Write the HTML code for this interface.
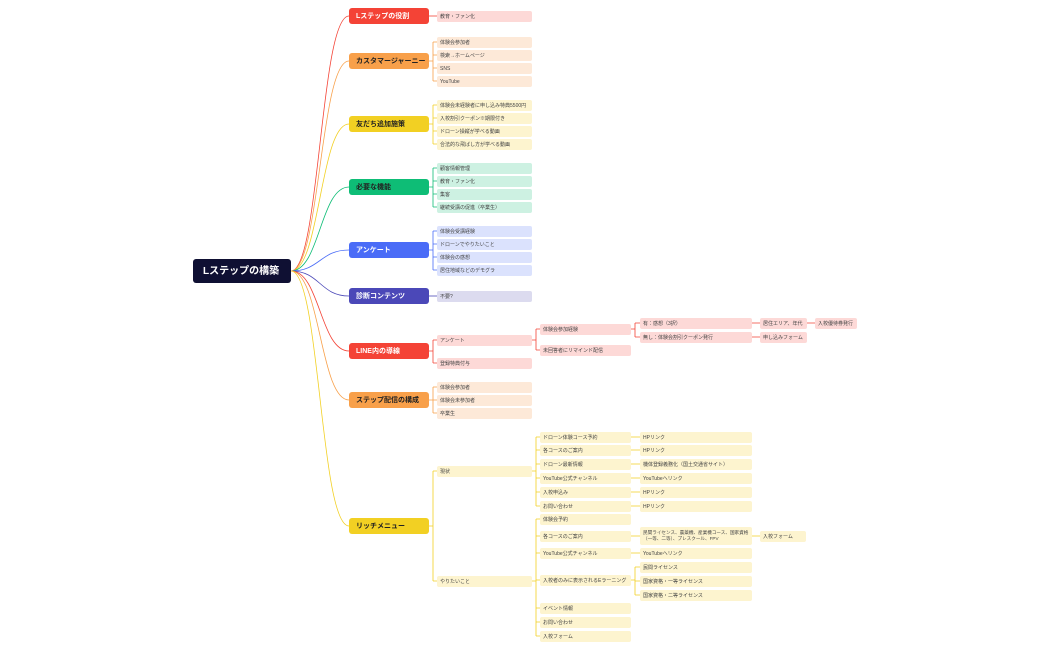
<!DOCTYPE html>
<html><head><meta charset="utf-8"><style>
body{margin:0;width:1050px;height:650px;background:#fff;position:relative;overflow:hidden;font-family:"Liberation Sans","Noto Sans CJK JP",sans-serif}
.n{position:absolute;font-size:5px;border-radius:2px;padding-left:3px;height:11px;line-height:12px;white-space:nowrap;color:#444;box-sizing:border-box;overflow:hidden}
.m{position:absolute;left:349px;width:80px;height:16px;line-height:17px;font-size:7px;font-weight:bold;border-radius:3px;padding-left:7px;box-sizing:border-box;white-space:nowrap;color:#222}
.r{background:#fdd9d7}.o{background:#fde9d8}.y{background:#fdf4cf}.g{background:#cdf1e2}.b{background:#dbe2fd}.i{background:#dcdbef}
.l2{left:437px;width:95px}.l3{left:540px;width:91px}.l4{left:640px;width:112px}
svg{position:absolute;left:0;top:0}
</style></head><body>
<svg width="1050" height="650" fill="none" stroke-width="0.8">
<g>
<path d="M291 271C320 271 320 16 349 16" stroke="#f44336"/>
<path d="M291 271C320 271 320 61 349 61" stroke="#f8a04a"/>
<path d="M291 271C320 271 320 124 349 124" stroke="#f2d023"/>
<path d="M291 271C320 271 320 187 349 187" stroke="#0ebd76"/>
<path d="M291 271C320 271 320 250 349 250" stroke="#4a6cf7"/>
<path d="M291 271C320 271 320 296 349 296" stroke="#4b48b8"/>
<path d="M291 271C320 271 320 351 349 351" stroke="#f44336"/>
<path d="M291 271C320 271 320 400 349 400" stroke="#f8a04a"/>
<path d="M291 271C320 271 320 526 349 526" stroke="#f2d023"/>
</g>
<g stroke="#f44336"><path d="M429 16H437"/><path d="M429 351H433M433 340V363M433 340H437M433 363H437"/><path d="M532 340H536M536 329V350M536 329H540M536 350H540"/><path d="M631 329H635M635 323V337M635 323H640M635 337H640"/><path d="M752 323H760M752 337H760M807 323H815"/></g>
<g stroke="#f8a04a"><path d="M429 61H433M433 42V81M433 42H437M433 55H437M433 68H437M433 81H437"/><path d="M429 400H433M433 387V413M433 387H437M433 400H437M433 413H437"/></g>
<g stroke="#f2d023"><path d="M429 124H433M433 105V144M433 105H437M433 118H437M433 131H437M433 144H437"/>
<path d="M429 526H433M433 471V581M433 471H437M433 581H437"/>
<path d="M532 471H536M536 437V506M536 437H540M536 450H540M536 464H540M536 478H540M536 492H540M536 506H540"/>
<path d="M631 437H640M631 450H640M631 464H640M631 478H640M631 492H640M631 506H640"/>
<path d="M532 581H536M536 519V636M536 519H540M536 536H540M536 553H540M536 580H540M536 608H540M536 622H540M536 636H540"/>
<path d="M631 536H640M631 553H640M752 536H760"/>
<path d="M631 580H635M635 567V595M635 567H640M635 581H640M635 595H640"/></g>
<g stroke="#0ebd76"><path d="M429 187H433M433 168V207M433 168H437M433 181H437M433 194H437M433 207H437"/></g>
<g stroke="#4a6cf7"><path d="M429 250H433M433 231V270M433 231H437M433 244H437M433 257H437M433 270H437"/></g>
<g stroke="#4b48b8"><path d="M429 296H437"/></g>
</svg>

<div style="position:absolute;left:193px;top:259px;width:98px;height:24px;line-height:25px;background:#0f1033;color:#fff;font-size:10px;font-weight:bold;border-radius:3px;padding-left:10px;box-sizing:border-box">Lステップの構築</div>

<div class="m" style="top:8px;background:#f44336;color:#fff">Lステップの役割</div>
<div class="m" style="top:53px;background:#f8a04a">カスタマージャーニー</div>
<div class="m" style="top:116px;background:#f2d023">友だち追加施策</div>
<div class="m" style="top:179px;background:#0ebd76">必要な機能</div>
<div class="m" style="top:242px;background:#4a6cf7;color:#fff">アンケート</div>
<div class="m" style="top:288px;background:#4b48b8;color:#fff">診断コンテンツ</div>
<div class="m" style="top:343px;background:#f44336;color:#fff">LINE内の導線</div>
<div class="m" style="top:392px;background:#f8a04a">ステップ配信の構成</div>
<div class="m" style="top:518px;background:#f2d023">リッチメニュー</div>

<div class="n l2 r" style="top:10.5px">教育・ファン化</div>
<div class="n l2 o" style="top:36.5px">体験会参加者</div>
<div class="n l2 o" style="top:49.5px">検索→ホームページ</div>
<div class="n l2 o" style="top:62.5px">SNS</div>
<div class="n l2 o" style="top:75.5px">YouTube</div>
<div class="n l2 y" style="top:99.5px">体験会未経験者に申し込み特典5500円</div>
<div class="n l2 y" style="top:112.5px">入校割引クーポン※期限付き</div>
<div class="n l2 y" style="top:125.5px">ドローン操縦が学べる動画</div>
<div class="n l2 y" style="top:138.5px">合法的な飛ばし方が学べる動画</div>
<div class="n l2 g" style="top:162.5px">顧客情報管理</div>
<div class="n l2 g" style="top:175.5px">教育・ファン化</div>
<div class="n l2 g" style="top:188.5px">集客</div>
<div class="n l2 g" style="top:201.5px">継続受講の促進（卒業生）</div>
<div class="n l2 b" style="top:225.5px">体験会受講経験</div>
<div class="n l2 b" style="top:238.5px">ドローンでやりたいこと</div>
<div class="n l2 b" style="top:251.5px">体験会の感想</div>
<div class="n l2 b" style="top:264.5px">居住地域などのデモグラ</div>
<div class="n l2 i" style="top:290.5px">不要?</div>
<div class="n l2 r" style="top:334.5px">アンケート</div>
<div class="n l2 r" style="top:357.5px">登録特典付与</div>
<div class="n l3 r" style="top:323.5px">体験会参加経験</div>
<div class="n l3 r" style="top:344.5px">未回答者にリマインド配信</div>
<div class="n l4 r" style="top:317.5px">有：感想（3択）</div>
<div class="n l4 r" style="top:331.5px">無し：体験会割引クーポン発行</div>
<div class="n r" style="left:760px;width:47px;top:317.5px">居住エリア、年代</div>
<div class="n r" style="left:760px;width:47px;top:331.5px">申し込みフォーム</div>
<div class="n r" style="left:815px;width:42px;top:317.5px">入校優待券発行</div>
<div class="n l2 o" style="top:381.5px">体験会参加者</div>
<div class="n l2 o" style="top:394.5px">体験会未参加者</div>
<div class="n l2 o" style="top:407.5px">卒業生</div>

<div class="n l2 y" style="top:465.5px">現状</div>
<div class="n l2 y" style="top:575.5px">やりたいこと</div>
<div class="n l3 y" style="top:431.5px">ドローン体験コース予約</div>
<div class="n l3 y" style="top:444.5px">各コースのご案内</div>
<div class="n l3 y" style="top:458.5px">ドローン最新情報</div>
<div class="n l3 y" style="top:472.5px">YouTube公式チャンネル</div>
<div class="n l3 y" style="top:486.5px">入校申込み</div>
<div class="n l3 y" style="top:500.5px">お問い合わせ</div>
<div class="n l4 y" style="top:431.5px">HPリンク</div>
<div class="n l4 y" style="top:444.5px">HPリンク</div>
<div class="n l4 y" style="top:458.5px">機体登録義務化（国土交通省サイト）</div>
<div class="n l4 y" style="top:472.5px">YouTubeへリンク</div>
<div class="n l4 y" style="top:486.5px">HPリンク</div>
<div class="n l4 y" style="top:500.5px">HPリンク</div>
<div class="n l3 y" style="top:513.5px">体験会予約</div>
<div class="n l3 y" style="top:530.5px">各コースのご案内</div>
<div class="n l3 y" style="top:547.5px">YouTube公式チャンネル</div>
<div class="n l3 y" style="top:574.5px">入校者のみに表示されるEラーニング</div>
<div class="n l3 y" style="top:602.5px">イベント情報</div>
<div class="n l3 y" style="top:616.5px">お問い合わせ</div>
<div class="n l3 y" style="top:630.5px">入校フォーム</div>
<div class="n l4 y" style="top:527px;height:18px;line-height:6.5px;padding-top:2.5px;font-size:4.6px;white-space:normal">民間ライセンス、農薬機、産業機コース、国家資格（一等、二等）、プレスクール、FPV</div>
<div class="n y" style="left:760px;width:46px;top:530.5px">入校フォーム</div>
<div class="n l4 y" style="top:547.5px">YouTubeへリンク</div>
<div class="n l4 y" style="top:561.5px">民間ライセンス</div>
<div class="n l4 y" style="top:575.5px">国家資格・一等ライセンス</div>
<div class="n l4 y" style="top:589.5px">国家資格・二等ライセンス</div>
</body></html>
